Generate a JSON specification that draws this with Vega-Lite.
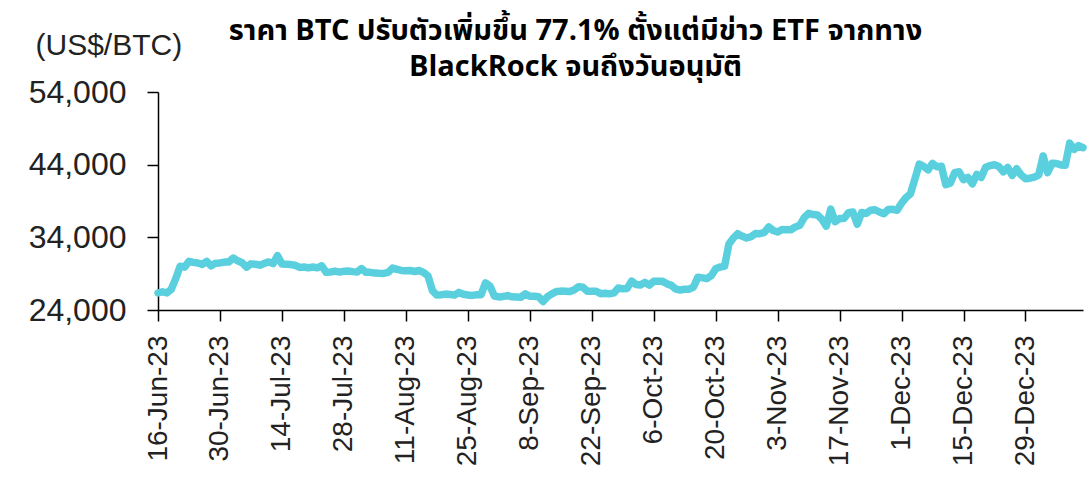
{
  "$schema": "https://vega.github.io/schema/vega-lite/v6.json",
  "width": 925,
  "height": 218,
  "autosize": {"type": "none"},
  "padding": {"left": 158, "top": 92, "right": 8, "bottom": 169},
  "background": "white",
  "title": {
    "text": ["ราคา BTC ปรับตัวเพิ่มขึ้น 77.1% ตั้งแต่มีข่าว ETF จากทาง", "BlackRock จนถึงวันอนุมัติ"],
    "font": "Noto Sans Thai, Noto Sans, sans-serif",
    "fontSize": 29,
    "fontWeight": "bold",
    "color": "#000000",
    "anchor": "middle",
    "frame": "group",
    "dx": -45,
    "dy": 62,
    "offset": 10,
    "lineHeight": 36
  },
  "data": {
    "values": [
      {"d":"2023-06-16","p":26340},{"d":"2023-06-17","p":26510},{"d":"2023-06-18","p":26340},{"d":"2023-06-19","p":26850},{"d":"2023-06-20","p":28310},
      {"d":"2023-06-21","p":30030},{"d":"2023-06-22","p":29900},{"d":"2023-06-23","p":30690},{"d":"2023-06-24","p":30550},{"d":"2023-06-25","p":30470},
      {"d":"2023-06-26","p":30270},{"d":"2023-06-27","p":30690},{"d":"2023-06-28","p":30080},{"d":"2023-06-29","p":30450},{"d":"2023-06-30","p":30480},
      {"d":"2023-07-01","p":30590},{"d":"2023-07-02","p":30620},{"d":"2023-07-03","p":31160},{"d":"2023-07-04","p":30770},{"d":"2023-07-05","p":30510},
      {"d":"2023-07-06","p":29900},{"d":"2023-07-07","p":30350},{"d":"2023-07-08","p":30290},{"d":"2023-07-09","p":30170},{"d":"2023-07-10","p":30410},
      {"d":"2023-07-11","p":30620},{"d":"2023-07-12","p":30390},{"d":"2023-07-13","p":31480},{"d":"2023-07-14","p":30320},{"d":"2023-07-15","p":30300},
      {"d":"2023-07-16","p":30250},{"d":"2023-07-17","p":30150},{"d":"2023-07-18","p":29860},{"d":"2023-07-19","p":29920},{"d":"2023-07-20","p":29800},
      {"d":"2023-07-21","p":29910},{"d":"2023-07-22","p":29800},{"d":"2023-07-23","p":30090},{"d":"2023-07-24","p":29180},{"d":"2023-07-25","p":29230},
      {"d":"2023-07-26","p":29350},{"d":"2023-07-27","p":29220},{"d":"2023-07-28","p":29320},{"d":"2023-07-29","p":29360},{"d":"2023-07-30","p":29280},
      {"d":"2023-07-31","p":29230},{"d":"2023-08-01","p":29700},{"d":"2023-08-02","p":29180},{"d":"2023-08-03","p":29180},{"d":"2023-08-04","p":29080},
      {"d":"2023-08-05","p":29050},{"d":"2023-08-06","p":29040},{"d":"2023-08-07","p":29180},{"d":"2023-08-08","p":29770},{"d":"2023-08-09","p":29580},
      {"d":"2023-08-10","p":29450},{"d":"2023-08-11","p":29400},{"d":"2023-08-12","p":29430},{"d":"2023-08-13","p":29300},{"d":"2023-08-14","p":29430},
      {"d":"2023-08-15","p":29170},{"d":"2023-08-16","p":28700},{"d":"2023-08-17","p":26660},{"d":"2023-08-18","p":26050},{"d":"2023-08-19","p":26100},
      {"d":"2023-08-20","p":26190},{"d":"2023-08-21","p":26120},{"d":"2023-08-22","p":26050},{"d":"2023-08-23","p":26430},{"d":"2023-08-24","p":26160},
      {"d":"2023-08-25","p":26060},{"d":"2023-08-26","p":26010},{"d":"2023-08-27","p":26090},{"d":"2023-08-28","p":26110},{"d":"2023-08-29","p":27730},
      {"d":"2023-08-30","p":27300},{"d":"2023-08-31","p":25930},{"d":"2023-09-01","p":25800},{"d":"2023-09-02","p":25870},{"d":"2023-09-03","p":25970},
      {"d":"2023-09-04","p":25820},{"d":"2023-09-05","p":25780},{"d":"2023-09-06","p":25750},{"d":"2023-09-07","p":26240},{"d":"2023-09-08","p":25900},
      {"d":"2023-09-09","p":25900},{"d":"2023-09-10","p":25830},{"d":"2023-09-11","p":25160},{"d":"2023-09-12","p":25840},{"d":"2023-09-13","p":26230},
      {"d":"2023-09-14","p":26540},{"d":"2023-09-15","p":26600},{"d":"2023-09-16","p":26570},{"d":"2023-09-17","p":26530},{"d":"2023-09-18","p":26750},
      {"d":"2023-09-19","p":27210},{"d":"2023-09-20","p":27130},{"d":"2023-09-21","p":26570},{"d":"2023-09-22","p":26580},{"d":"2023-09-23","p":26580},
      {"d":"2023-09-24","p":26250},{"d":"2023-09-25","p":26300},{"d":"2023-09-26","p":26220},{"d":"2023-09-27","p":26350},{"d":"2023-09-28","p":27020},
      {"d":"2023-09-29","p":26910},{"d":"2023-09-30","p":26970},{"d":"2023-10-01","p":27980},{"d":"2023-10-02","p":27510},{"d":"2023-10-03","p":27430},
      {"d":"2023-10-04","p":27800},{"d":"2023-10-05","p":27420},{"d":"2023-10-06","p":27950},{"d":"2023-10-07","p":27970},{"d":"2023-10-08","p":27940},
      {"d":"2023-10-09","p":27600},{"d":"2023-10-10","p":27390},{"d":"2023-10-11","p":26870},{"d":"2023-10-12","p":26760},{"d":"2023-10-13","p":26860},
      {"d":"2023-10-14","p":26860},{"d":"2023-10-15","p":27160},{"d":"2023-10-16","p":28520},{"d":"2023-10-17","p":28420},{"d":"2023-10-18","p":28330},
      {"d":"2023-10-19","p":28720},{"d":"2023-10-20","p":29680},{"d":"2023-10-21","p":29920},{"d":"2023-10-22","p":30000},{"d":"2023-10-23","p":33090},
      {"d":"2023-10-24","p":33900},{"d":"2023-10-25","p":34500},{"d":"2023-10-26","p":34160},{"d":"2023-10-27","p":33910},{"d":"2023-10-28","p":34090},
      {"d":"2023-10-29","p":34540},{"d":"2023-10-30","p":34500},{"d":"2023-10-31","p":34670},{"d":"2023-11-01","p":35440},{"d":"2023-11-02","p":34940},
      {"d":"2023-11-03","p":34730},{"d":"2023-11-04","p":35080},{"d":"2023-11-05","p":35050},{"d":"2023-11-06","p":35040},{"d":"2023-11-07","p":35430},
      {"d":"2023-11-08","p":35650},{"d":"2023-11-09","p":36700},{"d":"2023-11-10","p":37310},{"d":"2023-11-11","p":37130},{"d":"2023-11-12","p":37070},
      {"d":"2023-11-13","p":36500},{"d":"2023-11-14","p":35540},{"d":"2023-11-15","p":37880},{"d":"2023-11-16","p":36150},{"d":"2023-11-17","p":36600},
      {"d":"2023-11-18","p":36590},{"d":"2023-11-19","p":37390},{"d":"2023-11-20","p":37480},{"d":"2023-11-21","p":35810},{"d":"2023-11-22","p":37420},
      {"d":"2023-11-23","p":37290},{"d":"2023-11-24","p":37720},{"d":"2023-11-25","p":37800},{"d":"2023-11-26","p":37480},{"d":"2023-11-27","p":37250},
      {"d":"2023-11-28","p":37830},{"d":"2023-11-29","p":37860},{"d":"2023-11-30","p":37720},{"d":"2023-12-01","p":38690},{"d":"2023-12-02","p":39470},
      {"d":"2023-12-03","p":39980},{"d":"2023-12-04","p":41980},{"d":"2023-12-05","p":44080},{"d":"2023-12-06","p":43770},{"d":"2023-12-07","p":43290},
      {"d":"2023-12-08","p":44170},{"d":"2023-12-09","p":43720},{"d":"2023-12-10","p":43790},{"d":"2023-12-11","p":41240},{"d":"2023-12-12","p":41450},
      {"d":"2023-12-13","p":42890},{"d":"2023-12-14","p":43020},{"d":"2023-12-15","p":41930},{"d":"2023-12-16","p":42240},{"d":"2023-12-17","p":41360},
      {"d":"2023-12-18","p":42660},{"d":"2023-12-19","p":42250},{"d":"2023-12-20","p":43650},{"d":"2023-12-21","p":43870},{"d":"2023-12-22","p":43990},
      {"d":"2023-12-23","p":43740},{"d":"2023-12-24","p":43020},{"d":"2023-12-25","p":43610},{"d":"2023-12-26","p":42520},{"d":"2023-12-27","p":43440},
      {"d":"2023-12-28","p":42580},{"d":"2023-12-29","p":42070},{"d":"2023-12-30","p":42140},{"d":"2023-12-31","p":42280},{"d":"2024-01-01","p":42600},
      {"d":"2024-01-02","p":45200},{"d":"2024-01-03","p":42900},{"d":"2024-01-04","p":44180},{"d":"2024-01-05","p":44160},{"d":"2024-01-06","p":43970},
      {"d":"2024-01-07","p":43930},{"d":"2024-01-08","p":46970},{"d":"2024-01-09","p":46110},{"d":"2024-01-10","p":46630},{"d":"2024-01-11","p":46340}
    ]
  },
  "mark": {"type": "line", "color": "#5ACFDD", "strokeWidth": 7.5, "strokeJoin": "round", "strokeCap": "round"},
  "encoding": {
    "x": {
      "field": "d",
      "type": "temporal",
      "scale": {"type": "utc", "domain": [{"year": 2023, "month": 6, "date": 16, "utc": true}, {"year": 2024, "month": 1, "date": 11, "utc": true}]},
      "axis": {
        "title": null,
        "format": "%-d-%b-%y",
        "values": [
          {"year": 2023, "month": 6, "date": 16, "utc": true},
          {"year": 2023, "month": 6, "date": 30, "utc": true},
          {"year": 2023, "month": 7, "date": 14, "utc": true},
          {"year": 2023, "month": 7, "date": 28, "utc": true},
          {"year": 2023, "month": 8, "date": 11, "utc": true},
          {"year": 2023, "month": 8, "date": 25, "utc": true},
          {"year": 2023, "month": 9, "date": 8, "utc": true},
          {"year": 2023, "month": 9, "date": 22, "utc": true},
          {"year": 2023, "month": 10, "date": 6, "utc": true},
          {"year": 2023, "month": 10, "date": 20, "utc": true},
          {"year": 2023, "month": 11, "date": 3, "utc": true},
          {"year": 2023, "month": 11, "date": 17, "utc": true},
          {"year": 2023, "month": 12, "date": 1, "utc": true},
          {"year": 2023, "month": 12, "date": 15, "utc": true},
          {"year": 2023, "month": 12, "date": 29, "utc": true}
        ],
        "labelAngle": -90,
        "labelFont": "Liberation Sans",
        "labelFontSize": 28,
        "labelColor": "#222222",
        "labelPadding": 14,
        "labelOverlap": false,
        "labelBound": false,
        "labelFlush": false,
        "grid": false,
        "domainColor": "#000000",
        "domainWidth": 1.5,
        "tickColor": "#000000",
        "tickWidth": 1.5,
        "tickSize": 11
      }
    },
    "y": {
      "field": "p",
      "type": "quantitative",
      "scale": {"domain": [24000, 54000], "nice": false, "zero": false},
      "axis": {
        "title": "(US$/BTC)",
        "titleAngle": 0,
        "titleAlign": "left",
        "titleBaseline": "middle",
        "titleX": -123,
        "titleY": -47,
        "titleFont": "Liberation Sans",
        "titleFontSize": 30,
        "titleFontWeight": "normal",
        "titleColor": "#222222",
        "values": [24000, 34000, 44000, 54000],
        "format": ",.0f",
        "labelFont": "Liberation Sans",
        "labelFontSize": 32,
        "labelColor": "#222222",
        "labelPadding": 21,
        "labelFlush": false,
        "labelOverlap": false,
        "grid": false,
        "domainColor": "#000000",
        "domainWidth": 1.5,
        "tickColor": "#000000",
        "tickWidth": 1.5,
        "tickSize": 11
      }
    }
  },
  "config": {"view": {"stroke": null}}
}
